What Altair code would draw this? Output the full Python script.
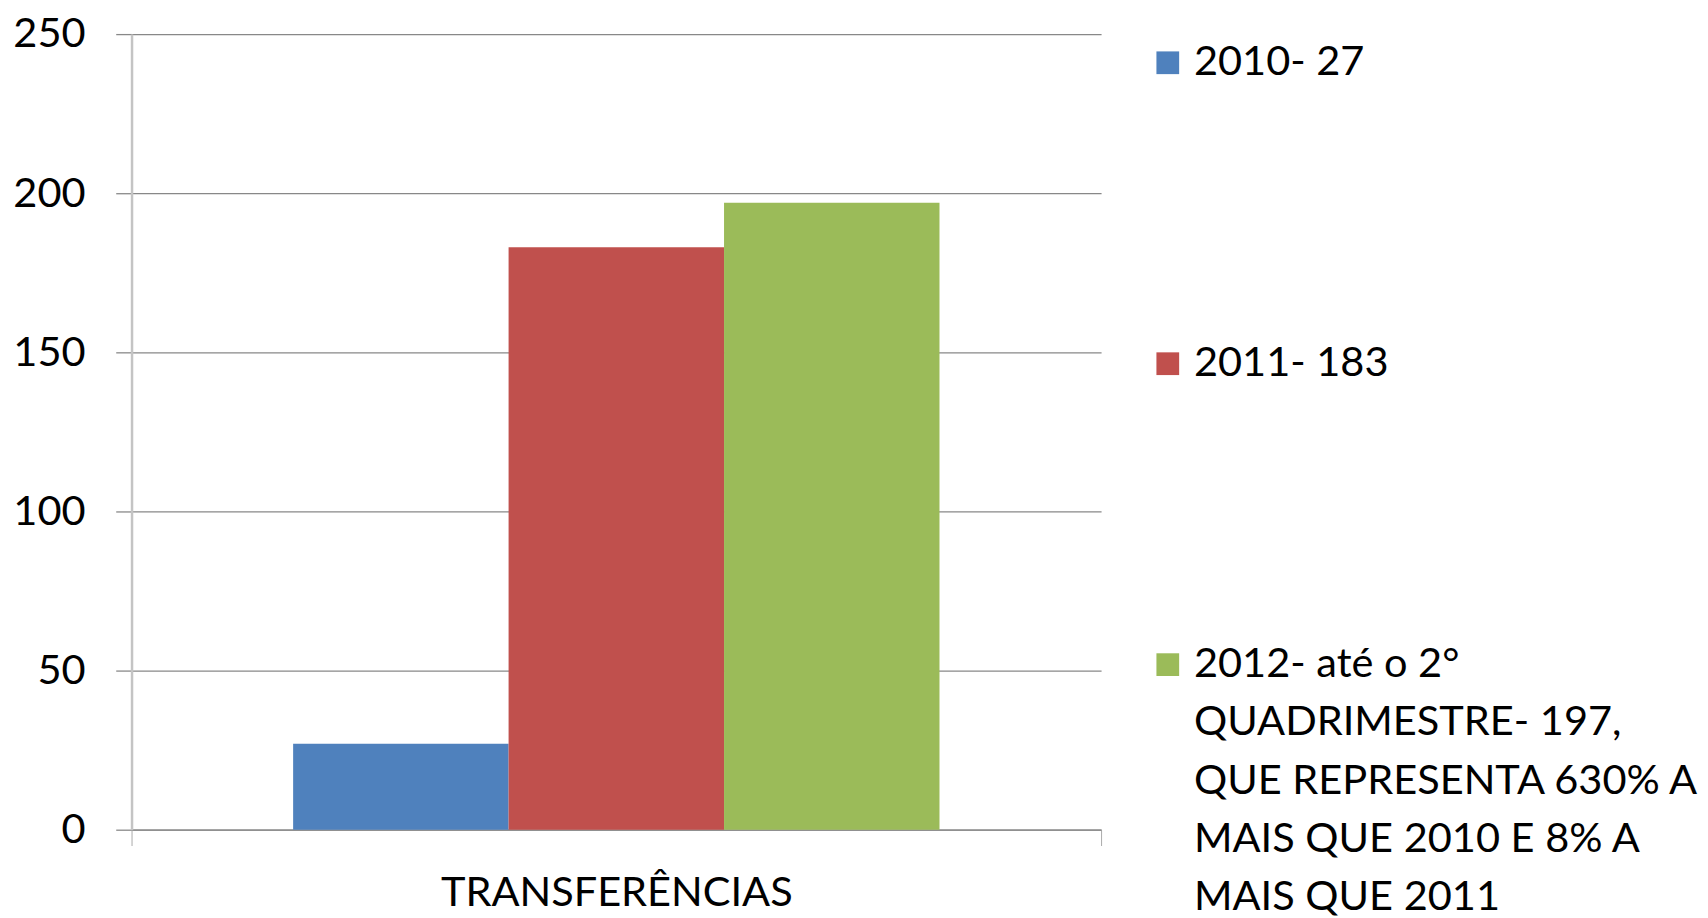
import altair as alt
import pandas as pd

category = "TRANSFERÊNCIAS"
series = [
    "2010- 27",
    "2011- 183",
    "2012- até o 2°\nQUADRIMESTRE- 197,\nQUE REPRESENTA 630% A\nMAIS QUE 2010 E 8% A\nMAIS QUE 2011",
]
values = [27, 183, 197]
colors = ["#4F81BD", "#C0504D", "#9BBB59"]
y_ticks = [0, 50, 100, 150, 200, 250]

FONT = "Lato"
FS = 42

df = pd.DataFrame({"cat": [category] * len(series), "series": series, "value": values})

color = alt.Color("series:N", scale=alt.Scale(domain=series, range=colors), legend=None)

bars = alt.Chart(df).mark_bar().encode(
    x=alt.X(
        "cat:N",
        title=None,
        scale=alt.Scale(paddingInner=0, paddingOuter=0),
        axis=alt.Axis(
            labelAngle=0, tickBand="extent", ticks=True, tickSize=16,
            tickColor="#aaaaaa", domainColor="#888888", domainWidth=1.3,
            labelPadding=28, labelFontSize=FS, labelFont=FONT, labelColor="black",
            labelLimit=0,
        ),
    ),
    xOffset=alt.XOffset("series:N", sort=series, scale=alt.Scale(paddingInner=0, paddingOuter=0.75)),
    y=alt.Y(
        "value:Q",
        scale=alt.Scale(domain=[0, 250]),
        axis=alt.Axis(
            values=y_ticks, title=None, grid=True, gridColor="#888888", gridWidth=1.3,
            tickSize=16, tickColor="#888888", tickWidth=1.3,
            domainColor="#c4c4c4", domainWidth=2.5,
            labelPadding=31, labelFontSize=FS, labelFont=FONT, labelColor="black",
        ),
    ),
    color=color,
).properties(width=981, height=805)

base = alt.Chart(df).encode(
    y=alt.Y("series:N", sort=series, axis=None,
            scale=alt.Scale(type="point", domain=series, range=[29, 638], padding=0)),
)
squares = base.mark_square(size=529, opacity=1).encode(x=alt.value(11.5), color=color)
texts = base.mark_text(
    align="left", baseline="line-top", dy=-29.5, lineBreak="\n",
    font=FONT, fontSize=FS, lineHeight=59, color="black",
).encode(x=alt.value(38), text="series:N")
legend = alt.layer(squares, texts).properties(width=510, height=805)

chart = alt.hconcat(bars, legend, spacing=55).properties(
    padding={"left": 4, "top": 0, "right": 0, "bottom": 0}
).configure_view(stroke=None)

chart.save("out.html", embed_options={"renderer": "svg", "actions": False})
